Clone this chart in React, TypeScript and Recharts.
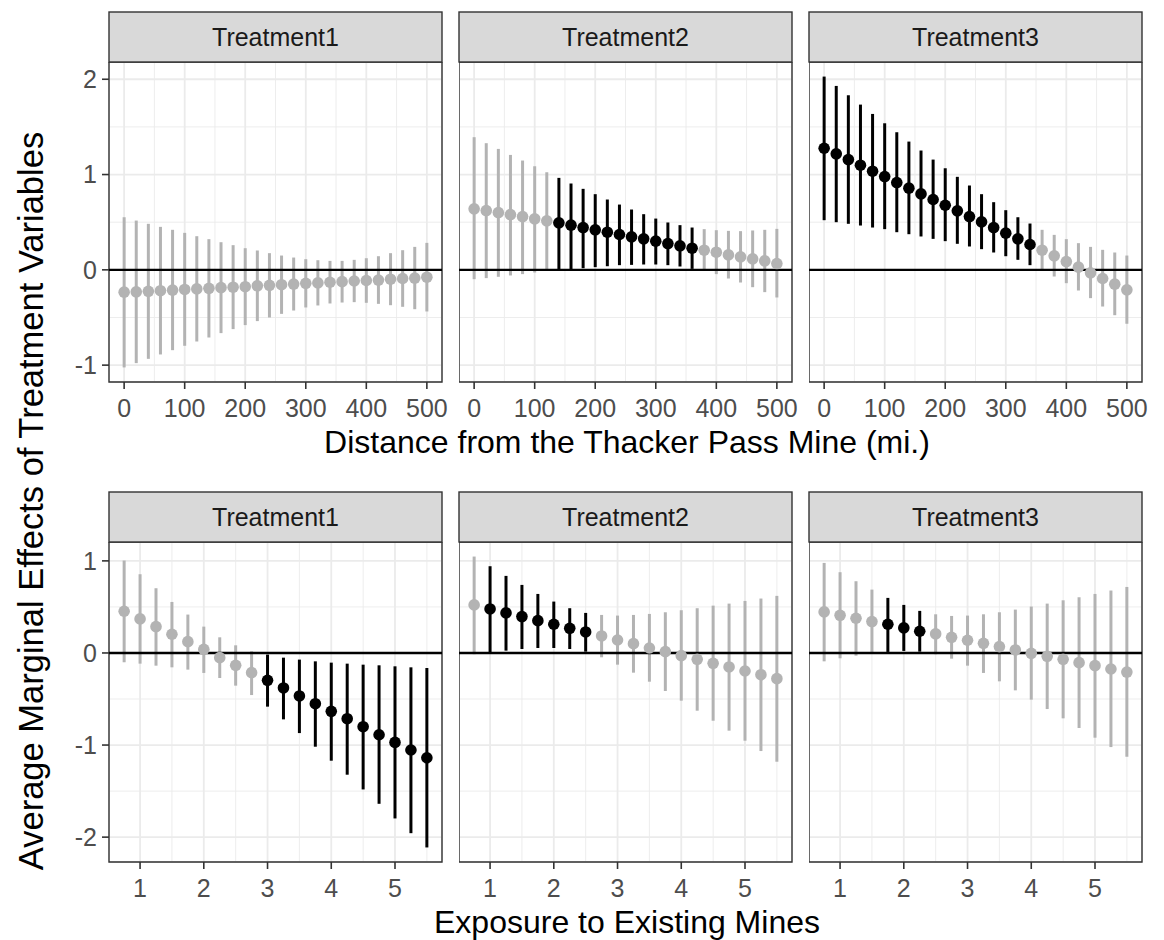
import React from 'react';
import {
  ComposedChart,
  Scatter,
  ErrorBar,
  XAxis,
  YAxis,
  CartesianGrid,
  ReferenceLine,
  ReferenceArea,
} from 'recharts';

const FONT = '"Liberation Sans", Arial, Helvetica, sans-serif';

// ---------- data ----------
const treatments = ['Treatment1', 'Treatment2', 'Treatment3'];

const distance = [0, 20, 40, 60, 80, 100, 120, 140, 160, 180, 200, 220, 240, 260, 280, 300, 320, 340, 360, 380, 400, 420, 440, 460, 480, 500];
const distanceTicks = [0, 100, 200, 300, 400, 500];
const distanceMinor = [50, 150, 250, 350, 450];

const exposure = [0.75, 1, 1.25, 1.5, 1.75, 2, 2.25, 2.5, 2.75, 3, 3.25, 3.5, 3.75, 4, 4.25, 4.5, 4.75, 5, 5.25, 5.5];
const exposureTicks = [1, 2, 3, 4, 5];
const exposureMinor = [1.5, 2.5, 3.5, 4.5, 5.5];

const topYTicks = [-1, 0, 1, 2];
const topYMinor = [-0.5, 0.5, 1.5];
const bottomYTicks = [-2, -1, 0, 1];
const bottomYMinor = [-1.5, -0.5, 0.5];

// Distance panels
const distT1Est = [-0.234, -0.231, -0.225, -0.219, -0.213, -0.206, -0.2, -0.194, -0.187, -0.182, -0.177, -0.168, -0.162, -0.156, -0.149, -0.141, -0.137, -0.13, -0.124, -0.117, -0.112, -0.107, -0.098, -0.091, -0.086, -0.077];
const distT1Hi = [0.552, 0.517, 0.483, 0.451, 0.42, 0.388, 0.353, 0.322, 0.29, 0.259, 0.227, 0.203, 0.175, 0.15, 0.129, 0.112, 0.101, 0.094, 0.094, 0.105, 0.122, 0.143, 0.175, 0.206, 0.241, 0.283];
const distT1Lo = [-1.024, -0.979, -0.934, -0.888, -0.843, -0.797, -0.752, -0.71, -0.664, -0.622, -0.58, -0.538, -0.5, -0.462, -0.427, -0.395, -0.374, -0.353, -0.343, -0.339, -0.346, -0.357, -0.371, -0.388, -0.413, -0.437];

const distT2Est = [0.64, 0.622, 0.601, 0.58, 0.559, 0.535, 0.514, 0.493, 0.469, 0.444, 0.42, 0.395, 0.371, 0.346, 0.325, 0.301, 0.276, 0.252, 0.227, 0.206, 0.185, 0.157, 0.136, 0.115, 0.094, 0.066];
const distT2Hi = [1.392, 1.329, 1.269, 1.206, 1.147, 1.087, 1.024, 0.965, 0.906, 0.85, 0.794, 0.738, 0.685, 0.633, 0.584, 0.538, 0.497, 0.469, 0.444, 0.427, 0.416, 0.409, 0.406, 0.413, 0.42, 0.43];
const distT2Lo = [-0.098, -0.087, -0.073, -0.059, -0.045, -0.028, -0.007, 0.003, 0.008, 0.017, 0.028, 0.038, 0.049, 0.052, 0.056, 0.056, 0.049, 0.035, 0.01, -0.01, -0.045, -0.091, -0.133, -0.182, -0.234, -0.29];

const distT3Est = [1.276, 1.217, 1.157, 1.098, 1.035, 0.979, 0.916, 0.857, 0.797, 0.738, 0.678, 0.619, 0.559, 0.503, 0.444, 0.385, 0.325, 0.266, 0.206, 0.147, 0.087, 0.028, -0.031, -0.091, -0.15, -0.21];
const distT3Hi = [2.028, 1.93, 1.832, 1.734, 1.636, 1.538, 1.444, 1.346, 1.252, 1.157, 1.066, 0.976, 0.885, 0.794, 0.71, 0.626, 0.552, 0.486, 0.42, 0.367, 0.322, 0.28, 0.241, 0.21, 0.182, 0.15];
const distT3Lo = [0.521, 0.5, 0.483, 0.465, 0.444, 0.427, 0.395, 0.374, 0.35, 0.325, 0.301, 0.273, 0.245, 0.217, 0.182, 0.143, 0.105, 0.049, -0.005, -0.07, -0.14, -0.217, -0.297, -0.385, -0.476, -0.566];

// Exposure panels
const expT1Est = [0.453, 0.37, 0.286, 0.203, 0.123, 0.04, -0.051, -0.134, -0.214, -0.297, -0.38, -0.467, -0.551, -0.634, -0.714, -0.801, -0.888, -0.971, -1.054, -1.138];
const expT1Hi = [1.004, 0.855, 0.703, 0.554, 0.417, 0.286, 0.17, 0.083, 0.018, -0.018, -0.051, -0.072, -0.091, -0.105, -0.116, -0.127, -0.134, -0.145, -0.156, -0.163];
const expT1Lo = [-0.101, -0.116, -0.138, -0.156, -0.181, -0.217, -0.272, -0.355, -0.457, -0.583, -0.721, -0.87, -1.018, -1.17, -1.322, -1.482, -1.638, -1.797, -1.957, -2.112];

const expT2Est = [0.522, 0.478, 0.435, 0.395, 0.351, 0.312, 0.268, 0.228, 0.185, 0.141, 0.101, 0.054, 0.014, -0.029, -0.069, -0.112, -0.152, -0.196, -0.236, -0.279];
const expT2Hi = [1.047, 0.942, 0.837, 0.739, 0.641, 0.558, 0.486, 0.435, 0.413, 0.406, 0.413, 0.424, 0.442, 0.464, 0.486, 0.514, 0.536, 0.565, 0.591, 0.62];
const expT2Lo = [-0.014, 0.007, 0.025, 0.043, 0.054, 0.054, 0.043, 0.014, -0.047, -0.127, -0.214, -0.312, -0.413, -0.518, -0.627, -0.736, -0.844, -0.953, -1.065, -1.181];

const expT3Est = [0.446, 0.409, 0.377, 0.341, 0.312, 0.272, 0.236, 0.207, 0.17, 0.138, 0.105, 0.069, 0.033, -0.004, -0.036, -0.069, -0.105, -0.138, -0.174, -0.207];
const expT3Hi = [0.978, 0.877, 0.779, 0.688, 0.598, 0.522, 0.457, 0.42, 0.402, 0.406, 0.42, 0.442, 0.471, 0.504, 0.536, 0.572, 0.605, 0.641, 0.678, 0.717];
const expT3Lo = [-0.091, -0.058, -0.029, -0.004, 0.011, 0.022, 0.014, -0.014, -0.062, -0.138, -0.217, -0.308, -0.406, -0.507, -0.609, -0.71, -0.815, -0.92, -1.022, -1.127];

// ---------- layout / style ----------
const GRAY = '#B3B3B3';
const BLACK = '#000000';
const PANEL_W = 333;
const PLOT_H = 320;
const STRIP_H = 50;
const Y_AXIS_W = 70;
const X_AXIS_H = 50;
const RIGHT_PAD = 22;
const COL_LEFT = [109, 459, 809];
const ROW_STRIP_TOP = [12, 492];

const TOP_X_DOMAIN: [number, number] = [-25, 525];
const BOT_X_DOMAIN: [number, number] = [0.5125, 5.7375];
const TOP_Y_DOMAIN: [number, number] = [-1.177, 2.181];
const BOT_Y_DOMAIN: [number, number] = [-2.27, 1.205];

const tickStyle = { fill: '#4D4D4D', fontSize: 25, fontFamily: FONT };

type PanelProps = {
  xs: number[];
  est: number[];
  lo: number[];
  hi: number[];
  col: number;
  row: number;
  xDomain: [number, number];
  yDomain: [number, number];
  xTicks: number[];
  xMinor: number[];
  yTicks: number[];
  yMinor: number[];
};

function Panel(p: PanelProps) {
  const rows = p.xs.map((x, i) => ({
    x,
    y: p.est[i],
    err: [p.est[i] - p.lo[i], p.hi[i] - p.est[i]],
    sig: p.lo[i] > 0 || p.hi[i] < 0,
  }));
  const grayData = rows.filter((r) => !r.sig);
  const blackData = rows.filter((r) => r.sig);
  const showY = p.col === 0;
  const width = PANEL_W + (showY ? Y_AXIS_W : 0) + RIGHT_PAD;
  const left = COL_LEFT[p.col] - (showY ? Y_AXIS_W : 0);
  const top = ROW_STRIP_TOP[p.row] + STRIP_H;

  const dot = (color: string) => (props: any) =>
    <circle cx={props.cx} cy={props.cy} r={5.8} fill={color} />;

  return (
    <div style={{ position: 'absolute', left, top }}>
      <ComposedChart
        width={width}
        height={PLOT_H + X_AXIS_H}
        margin={{ top: 0, right: RIGHT_PAD, bottom: 0, left: 0 }}
      >
        <CartesianGrid
          stroke="#EBEBEB"
          strokeWidth={0.9}
          verticalValues={p.xMinor}
          horizontalValues={p.yMinor}
        />
        <CartesianGrid stroke="#EBEBEB" strokeWidth={1.8} />
        <XAxis
          type="number"
          dataKey="x"
          domain={p.xDomain}
          ticks={p.xTicks}
          allowDataOverflow
          interval={0}
          axisLine={false}
          tickLine={{ stroke: '#333333', strokeWidth: 1.6 }}
          tickSize={7}
          tickMargin={10}
          tick={tickStyle}
          height={X_AXIS_H}
        />
        <YAxis
          type="number"
          domain={p.yDomain}
          ticks={p.yTicks}
          allowDataOverflow
          interval={0}
          axisLine={false}
          tickLine={{ stroke: '#333333', strokeWidth: 1.6 }}
          tickSize={7}
          tickMargin={5}
          tick={tickStyle}
          width={Y_AXIS_W}
          hide={!showY}
        />
        <Scatter data={grayData} dataKey="y" isAnimationActive={false} shape={dot(GRAY)}>
          <ErrorBar dataKey="err" direction="y" width={0} stroke={GRAY} strokeWidth={3} />
        </Scatter>
        <Scatter data={blackData} dataKey="y" isAnimationActive={false} shape={dot(BLACK)}>
          <ErrorBar dataKey="err" direction="y" width={0} stroke={BLACK} strokeWidth={3} />
        </Scatter>
        <ReferenceLine y={0} stroke="#000" strokeWidth={2.4} />
        <ReferenceArea
          x1={p.xDomain[0]}
          x2={p.xDomain[1]}
          y1={p.yDomain[0]}
          y2={p.yDomain[1]}
          fill="none"
          fillOpacity={0}
          stroke="#333333"
          strokeWidth={1.4}
          ifOverflow="visible"
        />
      </ComposedChart>
    </div>
  );
}

function Overlay() {
  return (
    <svg
      width={1164}
      height={940}
      style={{ position: 'absolute', left: 0, top: 0, pointerEvents: 'none' }}
    >
      {ROW_STRIP_TOP.map((st, r) =>
        COL_LEFT.map((cl, c) => (
          <g key={`${r}-${c}`}>
            <rect
              x={cl}
              y={st}
              width={PANEL_W}
              height={STRIP_H}
              fill="#D9D9D9"
              stroke="#333333"
              strokeWidth={1.4}
            />
            <text
              x={cl + PANEL_W / 2}
              y={st + STRIP_H / 2}
              dy="0.36em"
              textAnchor="middle"
              fontSize={25}
              fontFamily={FONT}
              fill="#1A1A1A"
            >
              {treatments[c]}
            </text>
          </g>
        ))
      )}
      <text x={627} y={453} textAnchor="middle" fontSize={32} fontFamily={FONT} fill="#000">
        Distance from the Thacker Pass Mine (mi.)
      </text>
      <text x={627} y={933} textAnchor="middle" fontSize={32} fontFamily={FONT} fill="#000">
        Exposure to Existing Mines
      </text>
      <text
        transform="translate(43, 501) rotate(-90)"
        textAnchor="middle"
        fontSize={34.5}
        fontFamily={FONT}
        fill="#000"
      >
        Average Marginal Effects of Treatment Variables
      </text>
    </svg>
  );
}

export default function App() {
  const top = { xs: distance, row: 0, xDomain: TOP_X_DOMAIN, yDomain: TOP_Y_DOMAIN, xTicks: distanceTicks, xMinor: distanceMinor, yTicks: topYTicks, yMinor: topYMinor };
  const bot = { xs: exposure, row: 1, xDomain: BOT_X_DOMAIN, yDomain: BOT_Y_DOMAIN, xTicks: exposureTicks, xMinor: exposureMinor, yTicks: bottomYTicks, yMinor: bottomYMinor };
  return (
    <div style={{ position: 'absolute', left: 0, top: 0, width: 1164, height: 940, background: '#fff', overflow: 'hidden' }}>
      <Panel {...top} col={0} est={distT1Est} lo={distT1Lo} hi={distT1Hi} />
      <Panel {...top} col={1} est={distT2Est} lo={distT2Lo} hi={distT2Hi} />
      <Panel {...top} col={2} est={distT3Est} lo={distT3Lo} hi={distT3Hi} />
      <Panel {...bot} col={0} est={expT1Est} lo={expT1Lo} hi={expT1Hi} />
      <Panel {...bot} col={1} est={expT2Est} lo={expT2Lo} hi={expT2Hi} />
      <Panel {...bot} col={2} est={expT3Est} lo={expT3Lo} hi={expT3Hi} />
      <Overlay />
    </div>
  );
}
